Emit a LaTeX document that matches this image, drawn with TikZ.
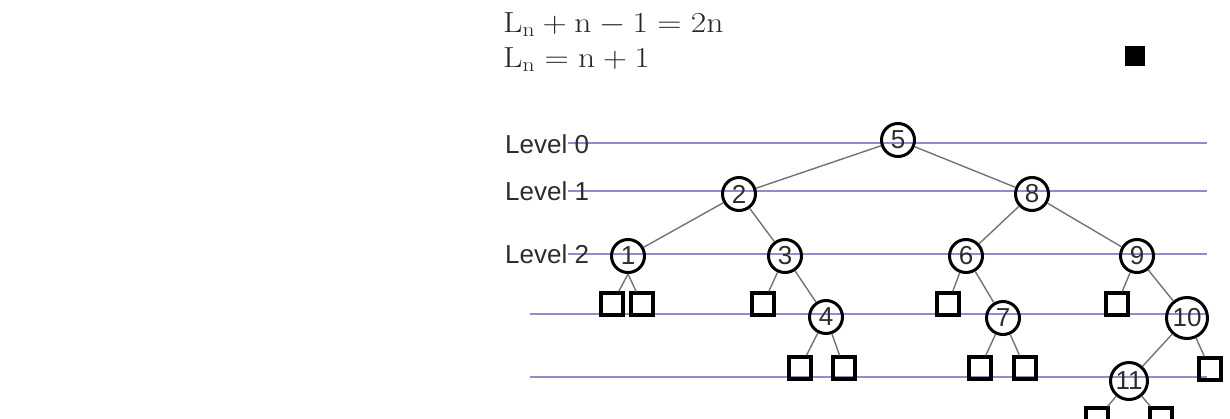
\RequirePackage{fix-cm}
\documentclass[tikz,border=0pt]{standalone}
\usepackage{fontspec}
\setsansfont{Liberation Sans}
\definecolor{levelblue}{RGB}{142,142,205}
\definecolor{keygray}{RGB}{45,45,45}
\tikzset{
        key/.style={circle, draw=black, line width=3pt, minimum size=33pt, inner sep=0pt,
                text=keygray, font=\sffamily\fontsize{26}{26}\selectfont},
        bigkey/.style={key, minimum size=41pt},
        midkey/.style={key, minimum size=37pt},
        leaf/.style={rectangle, draw=black, line width=3.2pt, minimum size=22pt, inner sep=0pt},
        levelline/.style={draw=levelblue, line width=1.6pt},
        levellabel/.style={anchor=west, inner sep=0pt, text=keygray,
                font=\sffamily\fontsize{26}{26}\selectfont},
        treeedge/.style={draw=black!55, line width=1.4pt},
        eqn/.style={anchor=base west, inner sep=0pt, xscale=1.16, text=black!85,
                font=\fontsize{29}{32}\selectfont}
}
\begin{document}
\begin{tikzpicture}[x=1pt,y=-1pt]
        \useasboundingbox (0,0) rectangle (1230,418);

        \node[eqn] (eq_1) at (503,32) {$\mathrm{L_n} + \mathrm{n} - 1 = 2\mathrm{n}$};
        \node[eqn] (eq_2) at (503,67) {$\mathrm{L_n} = \mathrm{n} + 1$};
        \node[rectangle, fill=black, minimum size=20pt, inner sep=0pt] (qed) at (1135,56) {};

        \coordinate (a_0) at (568,143);  \coordinate (b_0) at (1207,143);
        \coordinate (a_1) at (568,191);  \coordinate (b_1) at (1207,191);
        \coordinate (a_2) at (568,254);  \coordinate (b_2) at (1207,254);
        \coordinate (a_3) at (530,314);  \coordinate (b_3) at (1207,314);
        \coordinate (a_4) at (530,377);  \coordinate (b_4) at (1207,377);
        \draw[levelline] (a_0) -- (b_0);
        \draw[levelline] (a_1) -- (b_1);
        \draw[levelline] (a_2) -- (b_2);
        \draw[levelline] (a_3) -- (b_3);
        \draw[levelline] (a_4) -- (b_4);

        \node[levellabel] (lv_0) at (505,144) {Level 0};
        \node[levellabel] (lv_1) at (505,191) {Level 1};
        \node[levellabel] (lv_2) at (505,254) {Level 2};

        \node[key] (n_5) at (898,140) {5};
        \node[key] (n_2) at (739,194) {2};
        \node[key] (n_8) at (1032,194) {8};
        \node[key] (n_1) at (628,256) {1};
        \node[key] (n_3) at (785,256) {3};
        \node[key] (n_6) at (966,256) {6};
        \node[key] (n_9) at (1137,256) {9};
        \node[key] (n_4) at (826,317) {4};
        \node[key] (n_7) at (1003,318) {7};
        \node[bigkey] (n_10) at (1187,318) {10};
        \node[midkey] (n_11) at (1129,381) {11};

        \node[leaf] (e_1a) at (612,304) {};
        \node[leaf] (e_1b) at (642,304) {};
        \node[leaf] (e_3) at (763,304) {};
        \node[leaf] (e_4a) at (800,368) {};
        \node[leaf] (e_4b) at (844,368) {};
        \node[leaf] (e_6) at (948,304) {};
        \node[leaf] (e_7a) at (980,368) {};
        \node[leaf] (e_7b) at (1025,368) {};
        \node[leaf] (e_9) at (1117,304) {};
        \node[leaf] (e_10) at (1210,369) {};
        \node[leaf] (e_11a) at (1097,419) {};
        \node[leaf] (e_11b) at (1161,419) {};

        \draw[treeedge] (n_5) -- (n_2);
        \draw[treeedge] (n_5) -- (n_8);
        \draw[treeedge] (n_2) -- (n_1);
        \draw[treeedge] (n_2) -- (n_3);
        \draw[treeedge] (n_8) -- (n_6);
        \draw[treeedge] (n_8) -- (n_9);
        \draw[treeedge] (n_1.south) -- (e_1a);
        \draw[treeedge] (n_1.south) -- (e_1b);
        \draw[treeedge] (n_3) -- (e_3);
        \draw[treeedge] (n_3) -- (n_4);
        \draw[treeedge] (n_4) -- (e_4a);
        \draw[treeedge] (n_4) -- (e_4b);
        \draw[treeedge] (n_6) -- (e_6);
        \draw[treeedge] (n_6) -- (n_7);
        \draw[treeedge] (n_7) -- (e_7a);
        \draw[treeedge] (n_7) -- (e_7b);
        \draw[treeedge] (n_9) -- (e_9);
        \draw[treeedge] (n_9) -- (n_10);
        \draw[treeedge] (n_10) -- (n_11);
        \draw[treeedge] (n_10) -- (e_10);
        \draw[treeedge] (n_11) -- (e_11a);
        \draw[treeedge] (n_11) -- (e_11b);

    \end{tikzpicture}
\end{document}
